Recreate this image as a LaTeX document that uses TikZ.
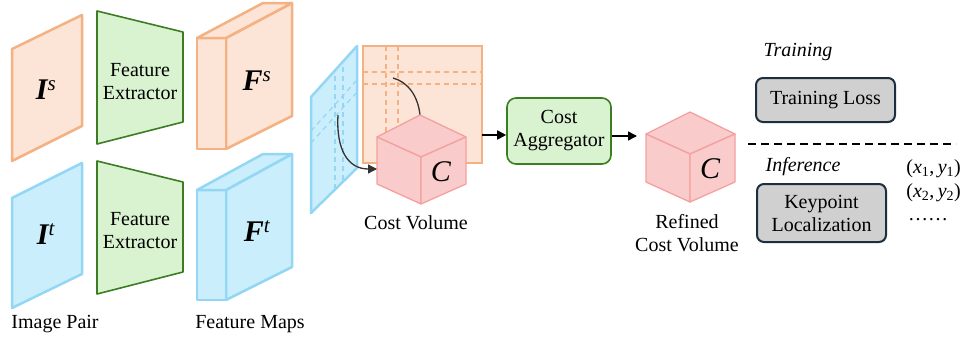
\documentclass[tikz,border=0pt]{standalone}
\usepackage{fontspec}
\setmainfont{Liberation Serif}
\usetikzlibrary{arrows.meta}
\definecolor{orfill}{HTML}{FCE4D6}
\definecolor{ordraw}{HTML}{F4B183}
\definecolor{blfill}{HTML}{CAEEFB}
\definecolor{bldraw}{HTML}{94D7F4}
\definecolor{grfill}{HTML}{D9F2D0}
\definecolor{grdraw}{HTML}{3B7D23}
\definecolor{cubefill}{HTML}{F9CBCB}
\definecolor{cubedraw}{HTML}{F4A0A0}
\definecolor{gyfill}{HTML}{D0D0D0}
\definecolor{gydraw}{HTML}{1C2E3F}
\newcommand{\crd}[2]{(\textit{x}\textsubscript{#1},\,\textit{y}\textsubscript{#2})}
\tikzset{
  orpanel/.style={draw=ordraw, fill=orfill, line width=2.5pt, line join=round},
  blpanel/.style={draw=bldraw, fill=blfill, line width=2.5pt, line join=round},
  extr/.style={draw=grdraw, fill=grfill, line width=1.6pt, line join=round},
  cubeface/.style={draw=cubedraw, fill=cubefill, line width=1.3pt, line join=round},
  ordash/.style={draw=ordraw, line width=1.2pt, dash pattern=on 5pt off 4pt},
  bldash/.style={draw=bldraw, line width=1.2pt, dash pattern=on 5pt off 4pt},
  lbl/.style={font=\fontsize{20}{24}\selectfont, align=center, inner sep=0pt},
  ital/.style={font=\fontsize{20}{24}\selectfont\itshape, inner sep=0pt},
  bigl/.style={font=\fontsize{30}{30}\selectfont, inner sep=0pt},
  aggbox/.style={draw=grdraw, fill=grfill, line width=1.6pt, rounded corners=9pt,
    font=\fontsize{20}{24}\selectfont, align=center},
  graybox/.style={draw=gydraw, fill=gyfill, line width=2pt, rounded corners=7pt,
    font=\fontsize{20}{24}\selectfont, align=center},
  arr/.style={-{Triangle[length=9pt,width=9pt]}, line width=1.6pt},
  curv/.style={draw=black!80, line width=1.3pt},
  coordtxt/.style={font=\fontsize{20}{22}\selectfont, inner sep=0pt}
}
\begin{document}
\begin{tikzpicture}[x=1pt, y=-1pt]
\useasboundingbox (0,0) rectangle (964,341);

% Image pair
\draw[orpanel] (12,49) -- (82,15) -- (82,126) -- (12,161) -- cycle;
\node[bigl] (Is) at (46,90) {{\bfseries\itshape I}\textsuperscript{\itshape s}};
\draw[blpanel] (12,198) -- (82,163) -- (82,274) -- (12,308) -- cycle;
\node[bigl] (It) at (46,234) {{\bfseries\itshape I}\textsuperscript{\itshape t}};
\node[lbl] (ip) at (55,324) {Image Pair};

% Feature extractors
\draw[extr] (97,11) -- (183,32) -- (183,122) -- (97,144) -- cycle;
\node[lbl] (fe1) at (140,82) {Feature\\[-1pt]Extractor};
\draw[extr] (97,161) -- (183,182) -- (183,272) -- (97,294) -- cycle;
\node[lbl] (fe2) at (140,231) {Feature\\[-1pt]Extractor};

% Feature maps
\draw[orpanel] (226,38) -- (292,3) -- (292,116) -- (226,149) -- cycle;
\draw[orpanel] (197,38) -- (226,38) -- (226,149) -- (197,149) -- cycle;
\draw[orpanel] (197,38) -- (263,3) -- (292,3) -- (226,38) -- cycle;
\node[bigl] (Fs) at (257,81) {{\bfseries\itshape F}\textsuperscript{\itshape s}};
\draw[blpanel] (226,190) -- (292,154) -- (292,267) -- (226,300) -- cycle;
\draw[blpanel] (197,190) -- (226,190) -- (226,300) -- (197,300) -- cycle;
\draw[blpanel] (197,190) -- (263,154) -- (292,154) -- (226,190) -- cycle;
\node[bigl] (Ft) at (257,231) {{\bfseries\itshape F}\textsuperscript{\itshape t}};
\node[lbl] (fm) at (250,324) {Feature Maps};

% Blue slanted panel with dashed grid
\draw[blpanel] (311,97) -- (357,46) -- (357,168) -- (311,213) -- cycle;
\begin{scope}
  \clip (311,97) -- (357,46) -- (357,168) -- (311,213) -- cycle;
  \draw[bldash] (335,40) -- (335,220);
  \draw[bldash] (343,40) -- (343,220);
  \draw[bldash] (311,131) -- (357,80);
  \draw[bldash] (311,143) -- (357,92);
\end{scope}

% Orange square with dashed grid
\node[draw=ordraw, fill=orfill, line width=2.5pt, minimum width=119pt, minimum height=117pt, inner sep=0pt] (sq) at (422.5,104.5) {};
\begin{scope}
  \clip (363,46) rectangle (482,163);
  \draw[ordash] (386,46) -- (386,163);
  \draw[ordash] (398,46) -- (398,163);
  \draw[ordash] (363,72) -- (482,72);
  \draw[ordash] (363,84) -- (482,84);
\end{scope}

% curve from square grid to cube top
\coordinate (c2s) at (393,78);
\coordinate (cubetop) at (420,115);
\draw[curv] (c2s) .. controls (408,82) and (418,96) .. (cubetop);

% Cost volume cube
\draw[cubeface] (377,137) -- (420,115) -- (466,137) -- (421,157) -- cycle;
\draw[cubeface] (377,137) -- (421,157) -- (421,204) -- (377,184) -- cycle;
\draw[cubeface] (421,157) -- (466,137) -- (466,184) -- (421,204) -- cycle;
\node[bigl] (C1) at (441,172) {\itshape C};
\node[lbl] (cv) at (416,223) {Cost Volume};

% curved arrow from blue panel to cube
\coordinate (c1s) at (338,115);
\coordinate (c1e) at (377,169);
\draw[curv, -{Triangle[length=9pt,width=9pt]}] (c1s) .. controls (336,150) and (348,169) .. (c1e);

% Cost aggregator
\node[aggbox, minimum width=104pt, minimum height=66pt, inner sep=0pt] (agg) at (559,131) {Cost\\[-1pt]Aggregator};
\coordinate (a1) at (482,135);
\draw[arr] (a1) -- (agg.west |- a1);

% Refined cube
\coordinate (a2) at (637,136);
\draw[arr] (agg.east |- a2) -- (a2);
\draw[cubeface] (646,134) -- (690,112) -- (735,134) -- (690,154) -- cycle;
\draw[cubeface] (646,134) -- (690,154) -- (690,202) -- (646,182) -- cycle;
\draw[cubeface] (690,154) -- (735,134) -- (735,182) -- (690,202) -- cycle;
\node[bigl] (C2) at (710,169) {\itshape C};
\node[lbl] (rcv) at (687,233) {Refined\\[-1pt]Cost Volume};

% Right part
\node[ital] (tr) at (798,52) {Training};
\node[graybox, minimum width=139pt, minimum height=44pt, inner sep=0pt] (tl) at (825.5,100) {Training Loss};
\coordinate (d1) at (748,144);
\coordinate (d2) at (956,144);
\draw[line width=2pt, dash pattern=on 8pt off 5pt] (d1) -- (d2);
\node[ital] (inf) at (803,167) {Inference};
\node[graybox, minimum width=129pt, minimum height=58pt, inner sep=0pt] (kl) at (821.5,213) {Keypoint\\[-1pt]Localization};
\node[coordtxt, anchor=east] (p1) at (961,169) {\crd{1}{1}};
\node[coordtxt, anchor=east] (p2) at (961,193) {\crd{2}{2}};
\node[coordtxt] (p3) at (928,220) {……};
\end{tikzpicture}
\end{document}
